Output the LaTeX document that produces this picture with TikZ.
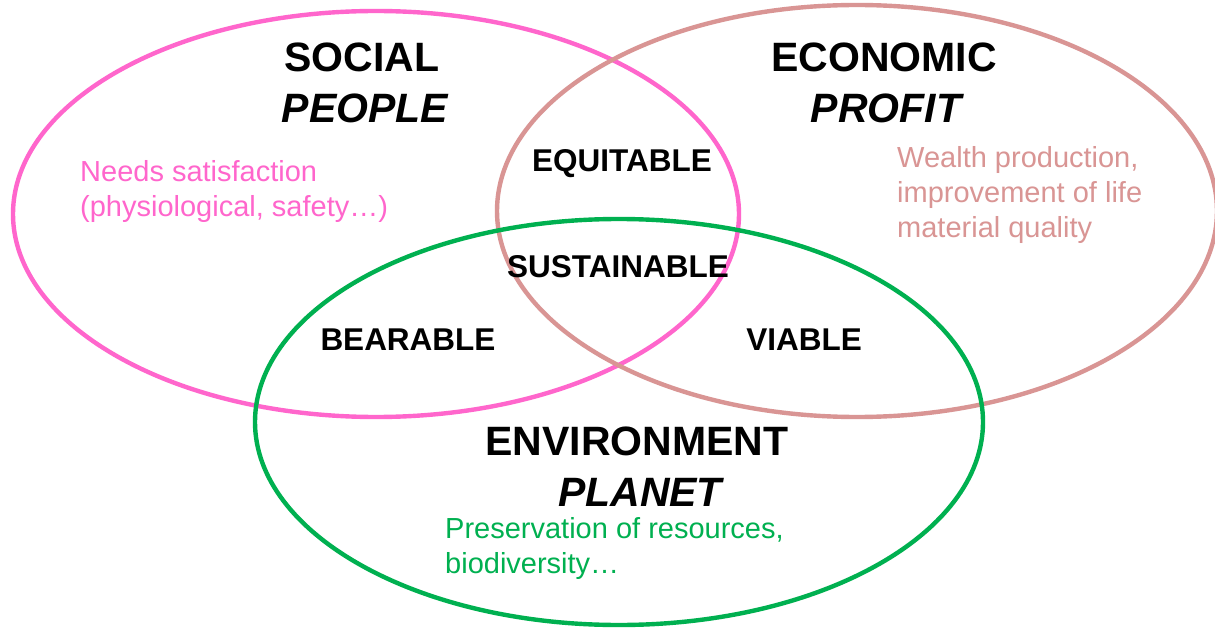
\documentclass[tikz,border=0pt]{standalone}
\usepackage{fontspec}
\setmainfont{Liberation Sans}
\definecolor{socpink}{HTML}{FF66CC}
\definecolor{ecorose}{HTML}{D99594}
\definecolor{envgreen}{HTML}{00B050}
\begin{document}
\begin{tikzpicture}[x=1pt,y=-1pt,
  ring/.style={line width=4.4pt},
  title/.style={anchor=base,font=\fontsize{41}{49}\selectfont\bfseries},
  ititle/.style={anchor=base,font=\fontsize{41}{49}\selectfont\bfseries\itshape},
  zone/.style={anchor=base,font=\fontsize{31.5}{38}\selectfont\bfseries},
  desc/.style={anchor=base west,align=left,font=\fontsize{29}{35}\selectfont,inner sep=0pt}]
\useasboundingbox (0,0) rectangle (1215,628);
\fill[white] (0,0) rectangle (1215,628);
% circles
\draw[ring,socpink] (376,214) ellipse [x radius=363pt, y radius=203pt];
\draw[ring,ecorose] (857,211) ellipse [x radius=360pt, y radius=206pt];
\draw[ring,envgreen] (619,422) ellipse [x radius=364pt, y radius=203pt];
% titles
\node[title] (social) at (362,72) {SOCIAL};
\node[ititle] (people) at (365,123) {PEOPLE};
\node[title] (economic) at (884,72) {ECONOMIC};
\node[ititle] (profit) at (886,123) {PROFIT};
\node[title] (environment) at (637,455) {ENVIRONMENT};
\node[ititle] (planet) at (640,506) {PLANET};
% zones
\node[zone] (equitable) at (622,172) {EQUITABLE};
\node[zone] (sustainable) at (618,278) {SUSTAINABLE};
\node[zone] (bearable) at (408,350) {BEARABLE};
\node[zone] (viable) at (804,350) {VIABLE};
% descriptions (anchor at baseline of last line)
\node[desc,text=socpink] (needs) at (80,217) {Needs satisfaction\\(physiological, safety…)};
\node[desc,text=ecorose] (wealth) at (897,238) {Wealth production,\\improvement of life\\material quality};
\node[desc,text=envgreen] (preserve) at (445,573) {Preservation of resources,\\biodiversity…};
\end{tikzpicture}
\end{document}
